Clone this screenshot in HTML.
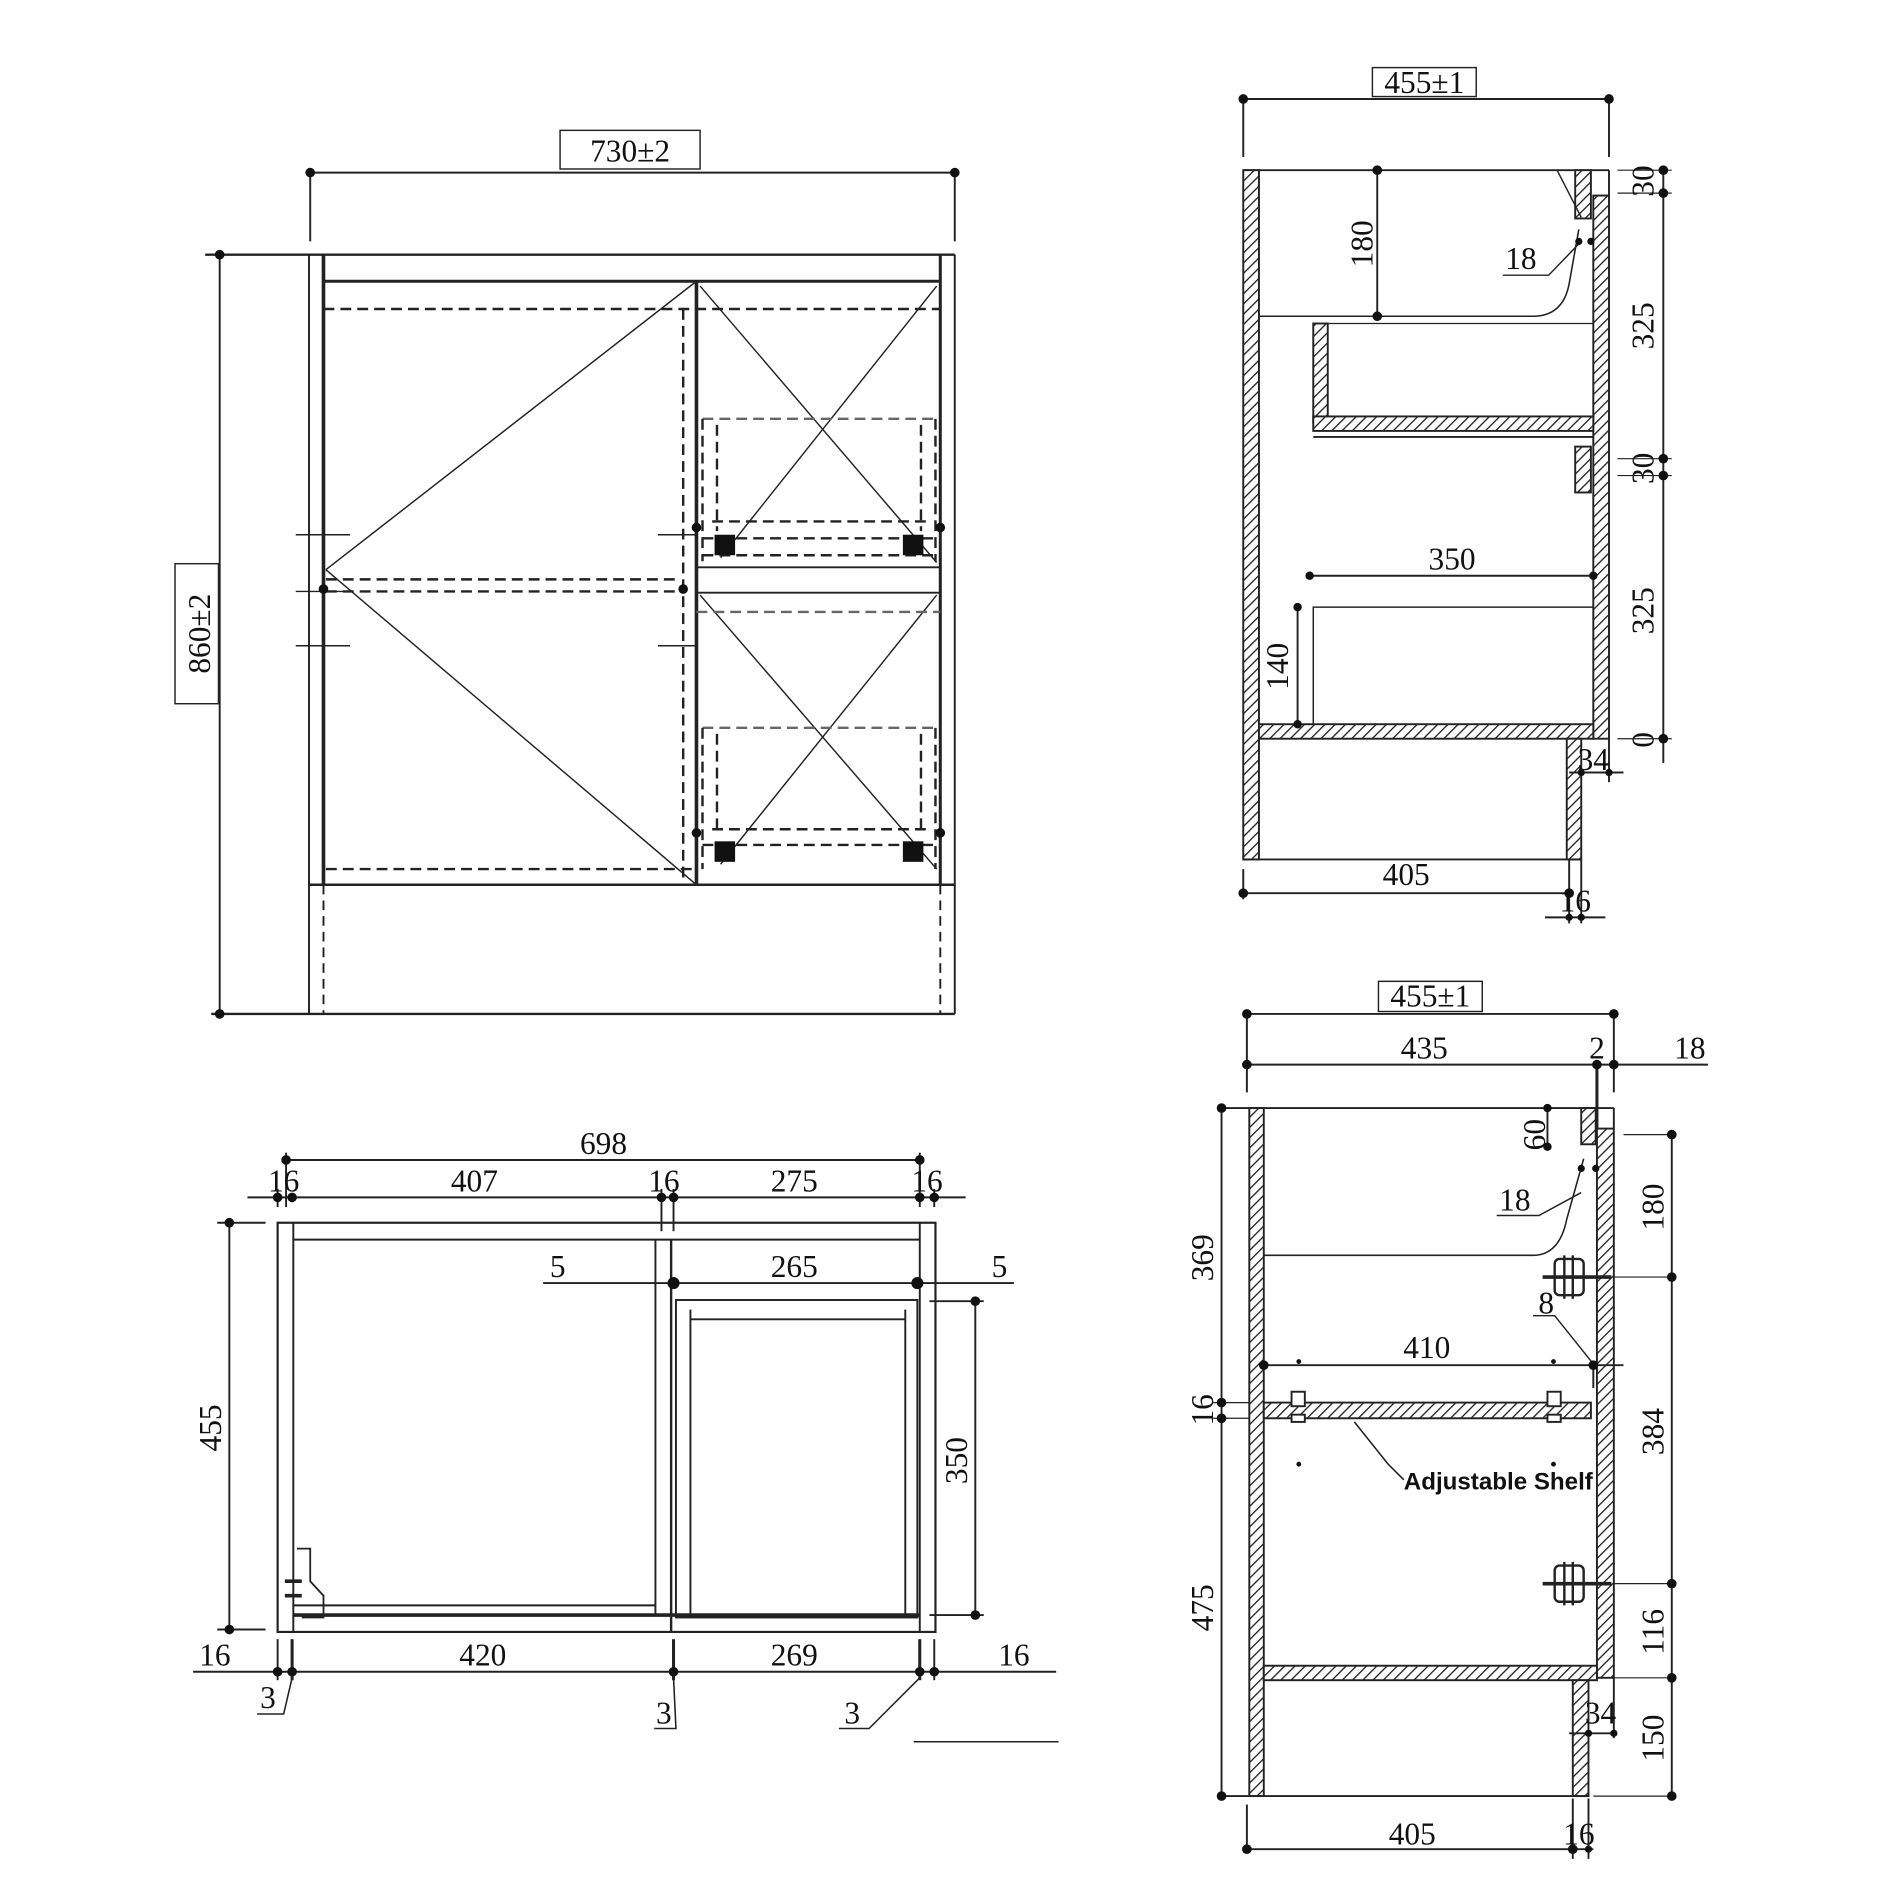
<!DOCTYPE html>
<html><head><meta charset="utf-8"><style>
html,body{margin:0;padding:0;background:#fff}
svg{display:block}
text{font-family:"Liberation Serif",serif;font-size:26px;fill:#111}
.s{font-family:"Liberation Sans",sans-serif;font-weight:bold;font-size:20px}
</style></head><body>
<svg width="1883" height="1883" viewBox="0 0 1560 1560" xmlns="http://www.w3.org/2000/svg">
<defs>
<pattern id="h" width="6" height="6" patternUnits="userSpaceOnUse" patternTransform="rotate(45)">
<rect width="6" height="6" fill="#fff"/><line x1="0" y1="0" x2="0" y2="6" stroke="#222" stroke-width="2.2"/>
</pattern>
</defs>
<g stroke="#222" stroke-width="1.6" fill="none">
<!-- ============ FRONT VIEW ============ -->
<line x1="257" y1="143" x2="791" y2="143"/>
<line x1="257" y1="143" x2="257" y2="200"/><line x1="791" y1="143" x2="791" y2="200"/>
<rect x="464" y="108" width="116" height="32" stroke-width="1.2"/>
<line x1="182" y1="211" x2="182" y2="840"/>
<line x1="170" y1="211" x2="791" y2="211" stroke-width="2"/>
<line x1="175" y1="840" x2="791" y2="840" stroke-width="2"/>
<rect x="145" y="467" width="36" height="116" stroke-width="1.2"/>
<line x1="256" y1="211" x2="256" y2="840"/><line x1="268" y1="211" x2="268" y2="733" stroke-width="3"/>
<line x1="779" y1="211" x2="779" y2="733" stroke-width="2.5"/><line x1="791" y1="211" x2="791" y2="840"/>
<line x1="268" y1="233" x2="779" y2="233" stroke-width="2.5"/>
<line x1="256" y1="733" x2="791" y2="733" stroke-width="2"/>
<line x1="268" y1="733" x2="268" y2="840" stroke-dasharray="8,5"/>
<line x1="779" y1="733" x2="779" y2="840" stroke-dasharray="8,5"/>
<line x1="268" y1="256" x2="779" y2="256" stroke-dasharray="9,5" stroke-width="2"/>
<line x1="566" y1="256" x2="566" y2="733" stroke-dasharray="9,5" stroke-width="2"/>
<line x1="577" y1="233" x2="577" y2="733" stroke-width="3"/>
<line x1="577" y1="233" x2="270" y2="472" stroke-width="1.2"/>
<line x1="270" y1="472" x2="577" y2="733" stroke-width="1.2"/>
<line x1="270" y1="480" x2="560" y2="480" stroke-dasharray="9,5" stroke-width="2"/>
<line x1="270" y1="490" x2="560" y2="490" stroke-dasharray="9,5" stroke-width="2"/>
<line x1="270" y1="720" x2="577" y2="720" stroke-dasharray="9,5" stroke-width="2"/>
<g stroke-width="1.2">
<line x1="245" y1="443" x2="290" y2="443"/><line x1="245" y1="490" x2="290" y2="490"/><line x1="245" y1="535" x2="290" y2="535"/>
<line x1="545" y1="443" x2="577" y2="443"/><line x1="545" y1="535" x2="577" y2="535"/>
</g>
<line x1="577" y1="470" x2="779" y2="470" stroke-width="1.5"/>
<line x1="577" y1="491" x2="779" y2="491" stroke-width="1.5"/>
<g stroke-width="1.2">
<line x1="580" y1="237" x2="776" y2="466"/><line x1="776" y1="237" x2="597" y2="462"/>
<line x1="580" y1="493" x2="776" y2="720"/><line x1="776" y1="493" x2="597" y2="716"/>
</g>
<g stroke-dasharray="9,5" stroke-width="2">
<line x1="582" y1="347" x2="776" y2="347" stroke="#666"/>
<line x1="582" y1="347" x2="582" y2="465"/><line x1="594" y1="352" x2="594" y2="440"/>
<line x1="763" y1="352" x2="763" y2="440"/><line x1="775" y1="347" x2="775" y2="465"/>
<line x1="590" y1="432" x2="770" y2="432"/><line x1="582" y1="446" x2="776" y2="446"/><line x1="582" y1="460" x2="776" y2="460"/>
<line x1="577" y1="507" x2="779" y2="507" stroke="#666"/>
<line x1="582" y1="603" x2="776" y2="603" stroke="#666"/>
<line x1="582" y1="603" x2="582" y2="720"/><line x1="594" y1="608" x2="594" y2="690"/>
<line x1="763" y1="608" x2="763" y2="690"/><line x1="775" y1="603" x2="775" y2="720"/>
<line x1="590" y1="687" x2="770" y2="687"/><line x1="582" y1="700" x2="776" y2="700"/>
</g>
</g>
<g fill="#111">
<circle cx="257" cy="143" r="4"/><circle cx="791" cy="143" r="4"/>
<circle cx="182" cy="211" r="4"/><circle cx="182" cy="840" r="4"/>
<rect x="592" y="443" width="17" height="17"/><rect x="748" y="443" width="17" height="17"/>
<rect x="592" y="697" width="17" height="17"/><rect x="748" y="697" width="17" height="17"/>
<circle cx="577" cy="437" r="4"/><circle cx="779" cy="437" r="4"/>
<circle cx="577" cy="690" r="4"/><circle cx="779" cy="690" r="4"/>
<circle cx="268" cy="488" r="4"/><circle cx="566" cy="488" r="4"/>
</g>
<text x="522" y="134" text-anchor="middle" font-size="30">730±2</text>
<text transform="translate(174,525) rotate(-90)" text-anchor="middle" font-size="30">860±2</text>

<!-- ============ TOP RIGHT SECTION ============ -->
<g stroke="#222" stroke-width="1.6" fill="none">
<line x1="1030" y1="82" x2="1333" y2="82"/>
<line x1="1030" y1="82" x2="1030" y2="130"/><line x1="1333" y1="82" x2="1333" y2="130"/>
<rect x="1137" y="56" width="86" height="24" stroke-width="1.2"/>
<line x1="1030" y1="141" x2="1333" y2="141" stroke-width="1.5"/>
<rect x="1030" y="141" width="13" height="571" fill="url(#h)"/>
<rect x="1320" y="162" width="13" height="450" fill="url(#h)"/>
<rect x="1305" y="141" width="13" height="40" fill="url(#h)"/>
<line x1="1333" y1="141" x2="1333" y2="162"/>
<path d="M1043 262 H1270 Q1295 262 1300 235 L1308 190" stroke-width="1.3"/>
<rect x="1088" y="268" width="12" height="82" fill="url(#h)"/>
<rect x="1088" y="345" width="232" height="12" fill="url(#h)"/>
<line x1="1088" y1="362" x2="1320" y2="362"/>
<line x1="1100" y1="268" x2="1320" y2="268" stroke-width="1"/>
<rect x="1305" y="370" width="13" height="38" fill="url(#h)"/>
<line x1="1085" y1="477" x2="1320" y2="477"/>
<rect x="1088" y="503" width="232" height="97" stroke-width="1.2"/>
<line x1="1075" y1="503" x2="1075" y2="600"/>
<rect x="1043" y="600" width="277" height="12" fill="url(#h)"/>
<rect x="1298" y="612" width="12" height="100" fill="url(#h)"/>
<line x1="1030" y1="712" x2="1310" y2="712"/>
<line x1="1141" y1="141" x2="1141" y2="262"/>
<path d="M1245 228 H1283 L1310 200" stroke-width="1.2"/>
<line x1="1290" y1="141" x2="1310" y2="180" stroke-width="1.2"/>
<line x1="1378" y1="138" x2="1378" y2="632"/>
<line x1="1340" y1="141" x2="1385" y2="141" stroke-width="1"/><line x1="1340" y1="160" x2="1385" y2="160" stroke-width="1"/>
<line x1="1340" y1="380" x2="1385" y2="380" stroke-width="1"/><line x1="1340" y1="394" x2="1385" y2="394" stroke-width="1"/>
<line x1="1340" y1="612" x2="1385" y2="612" stroke-width="1"/>
<line x1="1030" y1="720" x2="1030" y2="745"/>
<line x1="1030" y1="740" x2="1300" y2="740"/>
<line x1="1300" y1="712" x2="1300" y2="765"/><line x1="1310" y1="712" x2="1310" y2="765"/>
<line x1="1280" y1="760" x2="1330" y2="760"/>
<line x1="1300" y1="640" x2="1345" y2="640"/>
<line x1="1333" y1="612" x2="1333" y2="648"/>
</g>
<g fill="#111">
<circle cx="1030" cy="82" r="4"/><circle cx="1333" cy="82" r="4"/>
<circle cx="1141" cy="141" r="4"/><circle cx="1141" cy="262" r="4"/>
<circle cx="1308" cy="200" r="3"/><circle cx="1318" cy="200" r="3"/>
<circle cx="1378" cy="141" r="4"/><circle cx="1378" cy="160" r="4"/><circle cx="1378" cy="380" r="4"/>
<circle cx="1378" cy="394" r="4"/><circle cx="1378" cy="612" r="4"/>
<circle cx="1085" cy="477" r="3.5"/><circle cx="1320" cy="477" r="3.5"/>
<circle cx="1075" cy="503" r="3.5"/><circle cx="1075" cy="600" r="3.5"/>
<circle cx="1030" cy="740" r="4"/><circle cx="1300" cy="740" r="4"/>
<circle cx="1300" cy="760" r="3"/><circle cx="1310" cy="760" r="3"/>
<circle cx="1310" cy="640" r="3"/><circle cx="1333" cy="640" r="3"/>
</g>
<text x="1180" y="77" text-anchor="middle">455±1</text>
<text transform="translate(1137,202) rotate(-90)" text-anchor="middle">180</text>
<text x="1260" y="223" text-anchor="middle">18</text>
<text transform="translate(1370,150) rotate(-90)" text-anchor="middle">30</text>
<text transform="translate(1370,270) rotate(-90)" text-anchor="middle">325</text>
<text transform="translate(1370,388) rotate(-90)" text-anchor="middle">30</text>
<text transform="translate(1370,506) rotate(-90)" text-anchor="middle">325</text>
<text transform="translate(1370,613) rotate(-90)" text-anchor="middle">0</text>
<text x="1203" y="472" text-anchor="middle">350</text>
<text transform="translate(1067,552) rotate(-90)" text-anchor="middle">140</text>
<text x="1320" y="638" text-anchor="middle">34</text>
<text x="1165" y="733" text-anchor="middle">405</text>
<text x="1305" y="755" text-anchor="middle">16</text>

<!-- ============ BOTTOM RIGHT SECTION ============ -->
<g stroke="#222" stroke-width="1.6" fill="none">
<line x1="1033" y1="840" x2="1337" y2="840"/>
<rect x="1142" y="813" width="86" height="25" stroke-width="1.2"/>
<line x1="1033" y1="840" x2="1033" y2="905"/><line x1="1337" y1="840" x2="1337" y2="905"/>
<line x1="1033" y1="882" x2="1415" y2="882"/>
<line x1="1323" y1="882" x2="1323" y2="935" stroke-width="2.5"/>
<line x1="1012" y1="918" x2="1337" y2="918" stroke-width="1.5"/>
<rect x="1035" y="918" width="12" height="570" fill="url(#h)"/>
<rect x="1323" y="935" width="14" height="455" fill="url(#h)"/>
<rect x="1310" y="918" width="12" height="30" fill="url(#h)"/>
<line x1="1337" y1="918" x2="1337" y2="935"/>
<path d="M1047 1040 H1270 Q1292 1040 1298 1010 L1312 960" stroke-width="1.3"/>
<line x1="1282" y1="918" x2="1282" y2="950"/>
<path d="M1240 1007 H1275 L1310 988" stroke-width="1.2"/>
<line x1="1047" y1="1131" x2="1345" y2="1131"/>
<line x1="1320" y1="1131" x2="1320" y2="1150"/>
<path d="M1270 1090 H1288 L1320 1130" stroke-width="1.2"/>
<rect x="1047" y="1162" width="271" height="13" fill="url(#h)"/>
<rect x="1070" y="1153" width="11" height="12" fill="#fff"/><rect x="1282" y="1153" width="11" height="12" fill="#fff"/>
<rect x="1070" y="1172" width="11" height="6" fill="#fff"/><rect x="1282" y="1172" width="11" height="6" fill="#fff"/>
<path d="M1122 1178 L1150 1213 L1163 1226" stroke-width="1.3"/>
<rect x="1047" y="1380" width="276" height="12" fill="url(#h)"/>
<rect x="1303" y="1392" width="13" height="96" fill="url(#h)"/>
<line x1="1012" y1="1488" x2="1316" y2="1488"/>
<line x1="1012" y1="918" x2="1012" y2="1488"/>
<line x1="1005" y1="1162" x2="1035" y2="1162" stroke-width="1"/><line x1="1005" y1="1175" x2="1035" y2="1175" stroke-width="1"/>
<line x1="1385" y1="940" x2="1385" y2="1488"/>
<line x1="1345" y1="940" x2="1385" y2="940" stroke-width="1"/>
<line x1="1337" y1="1058" x2="1385" y2="1058" stroke-width="1"/>
<line x1="1337" y1="1312" x2="1385" y2="1312" stroke-width="1"/>
<line x1="1337" y1="1390" x2="1385" y2="1390" stroke-width="1"/>
<line x1="1320" y1="1488" x2="1385" y2="1488" stroke-width="1"/>
<line x1="1316" y1="1436" x2="1337" y2="1436"/><line x1="1300" y1="1436" x2="1316" y2="1436"/>
<line x1="1337" y1="1390" x2="1337" y2="1440"/>
<line x1="1033" y1="1495" x2="1033" y2="1535"/>
<line x1="1033" y1="1532" x2="1320" y2="1532"/>
<line x1="1303" y1="1490" x2="1303" y2="1540"/><line x1="1316" y1="1490" x2="1316" y2="1540"/>
<!-- hinges -->
<g stroke-width="2">
<rect x="1288" y="1043" width="24" height="30" rx="4"/><line x1="1278" y1="1058" x2="1335" y2="1058" stroke-width="3"/>
<line x1="1296" y1="1040" x2="1296" y2="1076"/><line x1="1303" y1="1040" x2="1303" y2="1076"/>
<rect x="1288" y="1297" width="24" height="30" rx="4"/><line x1="1278" y1="1312" x2="1335" y2="1312" stroke-width="3"/>
<line x1="1296" y1="1294" x2="1296" y2="1330"/><line x1="1303" y1="1294" x2="1303" y2="1330"/>
</g>
</g>
<g fill="#111">
<circle cx="1033" cy="840" r="4"/><circle cx="1337" cy="840" r="4"/>
<circle cx="1033" cy="882" r="4"/><circle cx="1323" cy="882" r="4"/><circle cx="1337" cy="882" r="4"/>
<circle cx="1282" cy="918" r="3.5"/><circle cx="1282" cy="950" r="3.5"/>
<circle cx="1310" cy="968" r="3"/><circle cx="1322" cy="968" r="3"/>
<circle cx="1047" cy="1131" r="4"/><circle cx="1320" cy="1131" r="4"/>
<circle cx="1076" cy="1128" r="2"/><circle cx="1287" cy="1128" r="2"/><circle cx="1076" cy="1213" r="2"/><circle cx="1287" cy="1213" r="2"/>
<circle cx="1012" cy="918" r="4"/><circle cx="1012" cy="1162" r="4"/><circle cx="1012" cy="1175" r="4"/><circle cx="1012" cy="1488" r="4"/>
<circle cx="1385" cy="940" r="4"/><circle cx="1385" cy="1058" r="4"/><circle cx="1385" cy="1312" r="4"/>
<circle cx="1385" cy="1390" r="4"/><circle cx="1385" cy="1488" r="4"/>
<circle cx="1316" cy="1436" r="3"/><circle cx="1337" cy="1436" r="3"/>
<circle cx="1033" cy="1532" r="4"/><circle cx="1303" cy="1532" r="4"/><circle cx="1316" cy="1532" r="3"/>
</g>
<text x="1185" y="834" text-anchor="middle">455±1</text>
<text x="1180" y="877" text-anchor="middle">435</text>
<text x="1323" y="877" text-anchor="middle">2</text>
<text x="1400" y="877" text-anchor="middle">18</text>
<text transform="translate(1280,940) rotate(-90)" text-anchor="middle">60</text>
<text x="1255" y="1003" text-anchor="middle">18</text>
<text x="1281" y="1088" text-anchor="middle">8</text>
<text x="1182" y="1125" text-anchor="middle">410</text>
<text transform="translate(1005,1042) rotate(-90)" text-anchor="middle">369</text>
<text transform="translate(1005,1168) rotate(-90)" text-anchor="middle">16</text>
<text transform="translate(1005,1332) rotate(-90)" text-anchor="middle">475</text>
<text transform="translate(1378,1000) rotate(-90)" text-anchor="middle">180</text>
<text transform="translate(1378,1186) rotate(-90)" text-anchor="middle">384</text>
<text transform="translate(1378,1352) rotate(-90)" text-anchor="middle">116</text>
<text transform="translate(1378,1440) rotate(-90)" text-anchor="middle">150</text>
<text x="1326" y="1428" text-anchor="middle">34</text>
<text x="1170" y="1528" text-anchor="middle">405</text>
<text x="1308" y="1528" text-anchor="middle">16</text>
<text x="1163" y="1234" class="s">Adjustable Shelf</text>

<!-- ============ BOTTOM LEFT PLAN ============ -->
<g stroke="#222" stroke-width="1.6" fill="none">
<line x1="237" y1="961" x2="762" y2="961"/>
<line x1="205" y1="992" x2="800" y2="992"/>
<line x1="237" y1="955" x2="237" y2="1000"/><line x1="762" y1="955" x2="762" y2="1000"/>
<line x1="548" y1="985" x2="548" y2="1020"/><line x1="558" y1="985" x2="558" y2="1020"/>
<line x1="230" y1="985" x2="230" y2="1000"/><line x1="774" y1="985" x2="774" y2="1000"/>
<rect x="230" y="1013" width="545" height="339" stroke-width="1.8"/>
<line x1="243" y1="1013" x2="243" y2="1352"/>
<line x1="762" y1="1013" x2="762" y2="1352"/>
<line x1="243" y1="1027" x2="762" y2="1027"/>
<line x1="543" y1="1027" x2="543" y2="1338"/><line x1="556" y1="1027" x2="556" y2="1352" stroke-width="2"/>
<line x1="450" y1="1063" x2="840" y2="1063"/>
<rect x="560" y="1077" width="200" height="263"/>
<line x1="572" y1="1085" x2="572" y2="1338"/><line x1="750" y1="1085" x2="750" y2="1338"/>
<line x1="572" y1="1093" x2="750" y2="1093"/>
<line x1="770" y1="1078" x2="815" y2="1078"/><line x1="770" y1="1338" x2="815" y2="1338"/>
<line x1="808" y1="1078" x2="808" y2="1338"/>
<line x1="243" y1="1330" x2="543" y2="1330"/>
<line x1="243" y1="1338" x2="762" y2="1338" stroke-width="3"/>
<line x1="190" y1="1013" x2="190" y2="1350"/>
<line x1="180" y1="1013" x2="220" y2="1013"/><line x1="180" y1="1350" x2="220" y2="1350"/>
<line x1="160" y1="1385" x2="875" y2="1385"/>
<line x1="230" y1="1358" x2="230" y2="1392"/><line x1="242" y1="1358" x2="242" y2="1392" stroke-width="2.5"/>
<line x1="558" y1="1358" x2="558" y2="1392" stroke-width="2.5"/>
<line x1="762" y1="1358" x2="762" y2="1392" stroke-width="2.5"/><line x1="774" y1="1358" x2="774" y2="1392"/>
<path d="M213 1420 H235 L242 1390" stroke-width="1.3"/>
<path d="M542 1432 H560 L558 1390" stroke-width="1.3"/>
<path d="M695 1432 H720 L762 1390" stroke-width="1.3"/>
<line x1="757" y1="1443" x2="877" y2="1443" stroke-width="1.2"/>
<path d="M246 1283 H257 V1310 L268 1322 V1340 H250" stroke-width="1.5"/>
<line x1="236" y1="1310" x2="250" y2="1310" stroke-width="3"/>
<line x1="236" y1="1322" x2="250" y2="1322" stroke-width="3"/>
</g>
<g fill="#111">
<circle cx="237" cy="961" r="4"/><circle cx="762" cy="961" r="4"/>
<circle cx="230" cy="992" r="4"/><circle cx="242" cy="992" r="4"/><circle cx="548" cy="992" r="4"/>
<circle cx="558" cy="992" r="4"/><circle cx="762" cy="992" r="4"/><circle cx="774" cy="992" r="4"/>
<circle cx="558" cy="1063" r="5"/><circle cx="760" cy="1063" r="5"/>
<circle cx="808" cy="1078" r="4"/><circle cx="808" cy="1338" r="4"/>
<circle cx="190" cy="1013" r="4"/><circle cx="190" cy="1350" r="4"/>
<circle cx="230" cy="1385" r="4"/><circle cx="242" cy="1385" r="4"/><circle cx="558" cy="1385" r="4"/>
<circle cx="762" cy="1385" r="4"/><circle cx="774" cy="1385" r="4"/>
</g>
<text x="500" y="956" text-anchor="middle">698</text>
<text x="235" y="987" text-anchor="middle">16</text>
<text x="393" y="987" text-anchor="middle">407</text>
<text x="550" y="987" text-anchor="middle">16</text>
<text x="658" y="987" text-anchor="middle">275</text>
<text x="768" y="987" text-anchor="middle">16</text>
<text x="462" y="1058" text-anchor="middle">5</text>
<text x="658" y="1058" text-anchor="middle">265</text>
<text x="828" y="1058" text-anchor="middle">5</text>
<text transform="translate(183,1183) rotate(-90)" text-anchor="middle">455</text>
<text transform="translate(801,1210) rotate(-90)" text-anchor="middle">350</text>
<text x="178" y="1380" text-anchor="middle">16</text>
<text x="400" y="1380" text-anchor="middle">420</text>
<text x="658" y="1380" text-anchor="middle">269</text>
<text x="840" y="1380" text-anchor="middle">16</text>
<text x="222" y="1415" text-anchor="middle">3</text>
<text x="550" y="1428" text-anchor="middle">3</text>
<text x="706" y="1428" text-anchor="middle">3</text>
</svg>
</body></html>
